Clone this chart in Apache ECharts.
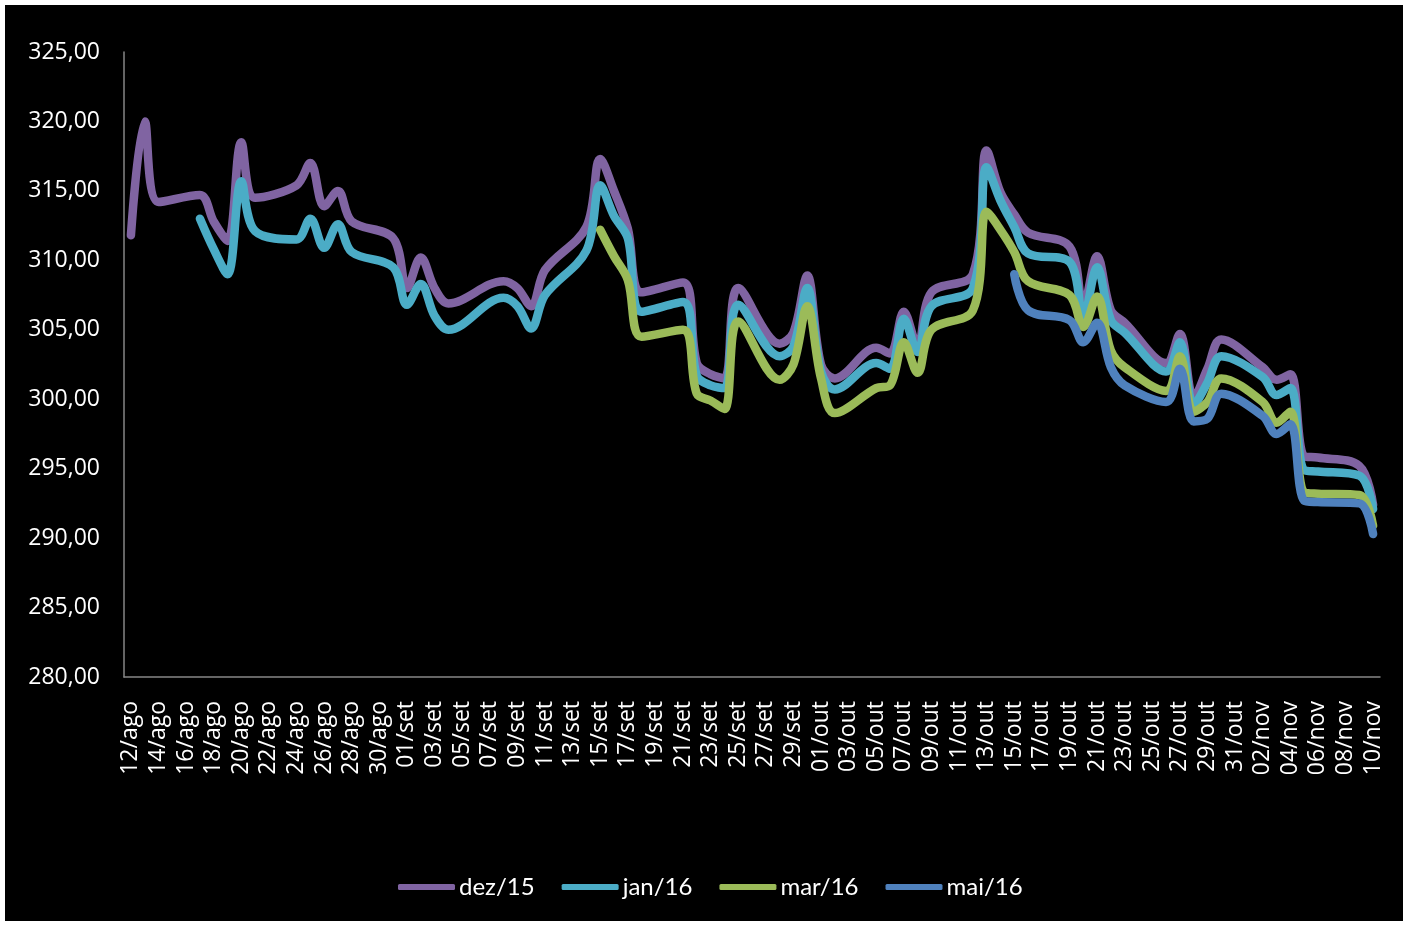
<!DOCTYPE html>
<html>
<head>
<meta charset="utf-8">
<script src="https://cdn.jsdelivr.net/npm/echarts@6/dist/echarts.min.js"></script>
<style>
  html, body { margin: 0; padding: 0; background: #ffffff; }
  #chart { position: absolute; left: 5px; top: 5px; width: 1398px; height: 916px; background: #000000; }
</style>
</head>
<body>
<div id="chart"></div>
<script>
// Daily calendar from 12/ago to 10/nov (weekends and exchange holidays have no quote)
const categories = [
  '12/ago','13/ago','14/ago','15/ago','16/ago',
  '17/ago','18/ago','19/ago','20/ago','21/ago','22/ago','23/ago',
  '24/ago','25/ago','26/ago','27/ago','28/ago','29/ago','30/ago',
  '31/ago','01/set','02/set','03/set','04/set','05/set','06/set',
  '07/set','08/set','09/set','10/set','11/set','12/set','13/set',
  '14/set','15/set','16/set','17/set','18/set','19/set','20/set',
  '21/set','22/set','23/set','24/set','25/set','26/set','27/set',
  '28/set','29/set','30/set','01/out','02/out','03/out','04/out',
  '05/out','06/out','07/out','08/out','09/out','10/out','11/out',
  '12/out','13/out','14/out','15/out','16/out','17/out','18/out',
  '19/out','20/out','21/out','22/out','23/out','24/out','25/out',
  '26/out','27/out','28/out','29/out','30/out','31/out','01/nov',
  '02/nov','03/nov','04/nov','05/nov','06/nov','07/nov','08/nov',
  '09/nov','10/nov'
];

const seriesNames = ['dez/15', 'jan/16', 'mar/16', 'mai/16'];

const dez15 = [
  311.8, 320.0, 314.2, null, null,
  314.7, 312.8, 311.4, 318.5, 314.5, null, null,
  315.4, 317.0, 313.9, 315.0, 312.8, null, null,
  311.6, 308.0, 310.2, 308.0, 306.9, null, null,
  null, 308.5, 308.0, 306.7, 309.3, null, null,
  312.4, 317.3, 315.0, 312.3, 307.7, null, null,
  308.4, 302.6, 301.8, 301.5, 308.0, null, null,
  304.0, 304.8, 308.9, 302.5, 301.5, null, null,
  303.7, 303.3, 306.3, 303.8, 307.7, null, null,
  309.0, 317.9, 314.9, 313.3, 312.0, null, null,
  311.0, 306.7, 310.3, 306.4, 305.5, null, null,
  302.6, 304.7, 300.1, 302.2, 304.3, null, null,
  302.3, 301.4, 301.8, 295.9, 295.8, null, null,
  295.2, 292.4
];

const jan16 = [
  null, null, null, null, null,
  313.0, 310.8, 309.0, 315.7, 312.1, null, null,
  311.5, 313.0, 310.9, 312.6, 310.6, null, null,
  309.5, 306.8, 308.3, 306.0, 305.0, null, null,
  null, 307.3, 306.7, 305.1, 307.5, null, null,
  310.7, 315.4, 313.2, 311.6, 306.3, null, null,
  307.0, 301.7, 301.0, 300.8, 306.8, null, null,
  303.1, 303.8, 308.0, 302.0, 300.7, null, null,
  302.6, 302.2, 305.8, 303.4, 306.7, null, null,
  308.0, 316.7, 314.3, 312.4, 310.5, null, null,
  309.9, 305.9, 309.5, 305.7, 304.8, null, null,
  302.0, 304.1, 299.6, 301.2, 303.1, null, null,
  301.6, 300.3, 300.8, 294.9, 294.8, null, null,
  294.5, 292.1
];

const mar16 = [
  null, null, null, null, null,
  null, null, null, null, null, null, null,
  null, null, null, null, null, null, null,
  null, null, null, null, null, null, null,
  null, null, null, null, null, null, null,
  null, 312.2, 310.3, 308.6, 304.5, null, null,
  305.0, 300.4, 299.9, 299.3, 305.6, null, null,
  301.4, 302.5, 306.7, 301.5, 299.0, null, null,
  300.8, 301.0, 304.1, 301.9, 305.0, null, null,
  306.4, 313.5, 312.2, 310.6, 308.5, null, null,
  307.5, 305.2, 307.4, 303.5, 302.3, null, null,
  300.6, 303.1, 299.1, 299.8, 301.5, null, null,
  299.8, 298.3, 299.1, 293.3, 293.2, null, null,
  293.1, 290.9
];

const mai16 = [
  null, null, null, null, null,
  null, null, null, null, null, null, null,
  null, null, null, null, null, null, null,
  null, null, null, null, null, null, null,
  null, null, null, null, null, null, null,
  null, null, null, null, null, null, null,
  null, null, null, null, null, null, null,
  null, null, null, null, null, null, null,
  null, null, null, null, null, null, null,
  null, null, null, 309.0, 306.4, null, null,
  305.7, 304.1, 305.5, 302.3, 301.0, null, null,
  299.8, 302.2, 298.4, 298.6, 300.4, null, null,
  298.8, 297.5, 298.2, 292.7, 292.6, null, null,
  292.5, 290.3
];

const seriesColors = ['#8064A2', '#4BACC6', '#9BBB59', '#4F81BD'];
const seriesValues = [dez15, jan16, mar16, mai16];

const chart = echarts.init(document.getElementById('chart'), null, { renderer: 'canvas' });

const option = {
  backgroundColor: '#000000',
  animation: false,
  color: seriesColors,
  grid: { left: 119, right: 23, top: 47, bottom: 244, containLabel: false },
  legend: {
    data: seriesNames,
    left: 388,
    top: 865,
    icon: 'roundRect',
    itemWidth: 57,
    itemHeight: 6,
    itemGap: 27,
    textStyle: { color: '#ffffff', fontFamily: 'Lato', fontSize: 24, padding: [0, 0, 0, -1] }
  },
  xAxis: {
    type: 'category',
    data: categories,
    boundaryGap: true,
    axisLine: { show: true, lineStyle: { color: '#868686', width: 1.5 } },
    axisTick: { show: false },
    splitLine: { show: false },
    axisLabel: {
      interval: 1,
      rotate: 90,
      color: '#ffffff',
      fontFamily: 'Open Sans',
      fontSize: 23,
      margin: 24
    }
  },
  yAxis: {
    type: 'value',
    min: 280,
    max: 325,
    interval: 5,
    axisLine: { show: true, lineStyle: { color: '#868686', width: 1.5 } },
    axisTick: { show: false },
    splitLine: { show: false },
    axisLabel: {
      color: '#ffffff',
      fontFamily: 'Open Sans',
      fontSize: 23,
      margin: 24,
      formatter: function (v) { return v.toFixed(2).replace('.', ','); }
    }
  },
  series: seriesNames.map(function (name, i) {
    return {
      name: name,
      type: 'line',
      data: seriesValues[i],
      connectNulls: true,
      smooth: 0.35,
      showSymbol: false,
      symbol: 'none',
      lineStyle: { color: seriesColors[i], width: 8.5, cap: 'round', join: 'round' },
      itemStyle: { color: seriesColors[i] }
    };
  })
};

chart.setOption(option);
</script>
</body>
</html>
